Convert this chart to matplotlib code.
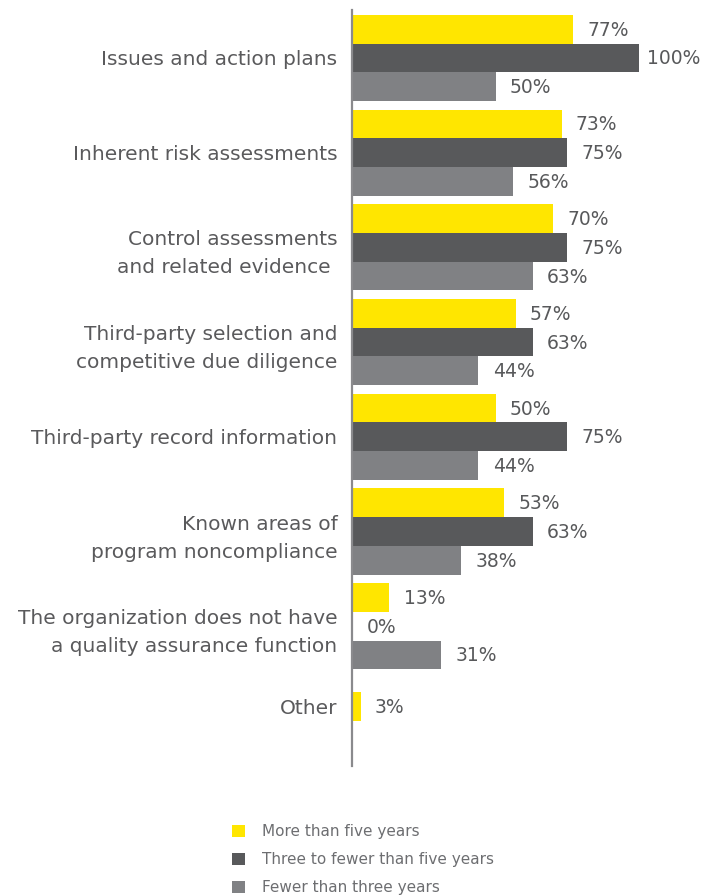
import numpy as np
import matplotlib
matplotlib.use("Agg")
import matplotlib.pyplot as plt
from matplotlib.patches import Patch

# survey categories, top to bottom
categories = [
    "Issues and action plans",
    "Inherent risk assessments",
    "Control assessments\nand related evidence ",
    "Third-party selection and\ncompetitive due diligence",
    "Third-party record information",
    "Known areas of\nprogram noncompliance",
    "The organization does not have\na quality assurance function",
    "Other",
]

more_than_five = [77, 73, 70, 57, 50, 53, 13, 3]
three_to_five = [100, 75, 75, 63, 75, 63, 0, np.nan]
under_three = [50, 56, 63, 44, 44, 38, 31, np.nan]

series_names = [
    "More than five years",
    "Three to fewer than five years",
    "Fewer than three years",
]
series_colors = ["#FFE600", "#58595B", "#808184"]

label_color = "#5A5A5C"
value_color = "#58595B"

plt.rcParams["font.family"] = ["DejaVu Sans"]

fig = plt.figure(figsize=(7.17, 8.96), dpi=100)
ax = fig.add_axes([0.491, 0.145, 0.5, 0.844])

# work in pixel-like units along y so bar spacing is easy to reason about
bar_h = 28.7
pitch = 94.7
centers = 48.0 + pitch * np.arange(len(categories))
# the "Other" group has a single bar; keep it on its label
centers[-1] -= 0.5 * bar_h

series = [more_than_five, three_to_five, under_three]
for k, (vals, color) in enumerate(zip(series, series_colors)):
    vals = np.array(vals, dtype=float)
    ys = centers + (k - 1) * bar_h
    if k == 0:
        ys[-1] = centers[-1]
    ok = ~np.isnan(vals)
    ax.barh(ys[ok], vals[ok], height=bar_h, color=color, linewidth=0)
    for y, v in zip(ys[ok], vals[ok]):
        pad = 2.8 if v >= 100 else 5.0
        ax.text(v + pad, y + 1, f"{v:.0f}%", va="center", ha="left",
                fontsize=13.5, color=value_color)

ax.set_ylim(756, 0)
ax.set_xlim(0, 124.9)

ax.set_yticks(centers)
ax.set_yticklabels(categories, fontsize=14.5, color=label_color,
                   linespacing=1.6)
ax.tick_params(axis="y", length=0, pad=10.5)
ax.set_xticks([])

for side in ["top", "right", "bottom"]:
    ax.spines[side].set_visible(False)
ax.spines["left"].set_color("#8A8A8D")
ax.spines["left"].set_linewidth(1.6)

handles = [Patch(facecolor=c, edgecolor="none") for c in series_colors]
fig.legend(handles, series_names, loc="upper left",
           bbox_to_anchor=(0.315, 0.087), frameon=False,
           fontsize=11, labelcolor="#6D6E71",
           handlelength=0.85, handleheight=0.85, handletextpad=1.1,
           labelspacing=0.85, borderaxespad=0)

fig.savefig("out.png", dpi=100)
